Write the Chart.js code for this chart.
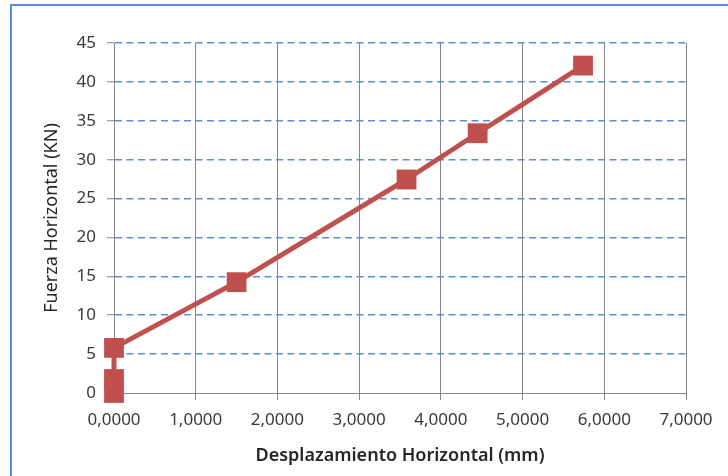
<!DOCTYPE html>
<html lang="es">
<head>
  <meta charset="UTF-8">
  <script src="https://cdn.jsdelivr.net/npm/chart.js"></script>
  <title>Fuerza vs Desplazamiento</title>
  <style>
    body { margin: 0; background: #fff; }
    #wrap { position: relative; width: 728px; height: 476px; overflow: hidden; }
    #marco {
      position: absolute; left: 10px; top: 4px; width: 740px; height: 500px;
      border-left: 2px solid #5b8fd3; border-top: 2px solid #5b8fd3;
    }
    canvas { position: absolute; left: 0; top: 0; }
  </style>
</head>
<body>
  <div id="wrap">
    <div id="marco"></div>
    <canvas id="myChart" width="728" height="476"></canvas>
  </div>

<script>
// datos
var desplazamiento = [0, 0, 0, 1.50, 3.58, 4.45, 5.74];
var fuerza = [0, 1.8, 5.8, 14.25, 27.45, 33.4, 42.1];

var etiquetasX = ['0,0000', '1,0000', '2,0000', '3,0000', '4,0000', '5,0000', '6,0000', '7,0000'];
var etiquetasY = ['0', '5', '10', '15', '20', '25', '30', '35', '40', '45'];

var rojo = '#c0504d';
var gris = '#858585';
var azul = '#5b8fd3';
var texto = '#3a3a3a';
var fuente = "'Noto Sans', 'DejaVu Sans', sans-serif";

var puntos = [];
for (var i = 0; i < desplazamiento.length; i++) {
  puntos.push({ x: desplazamiento[i], y: fuerza[i] });
}

const config = {
  type: 'scatter',
  data: {
    datasets: [{
      label: 'Fuerza',
      data: puntos,
      showLine: true,
      borderColor: rojo,
      backgroundColor: rojo,
      borderWidth: 5,
      pointStyle: 'rect',
      pointRadius: 14,
      pointHoverRadius: 14,
      pointBorderWidth: 0,
      clip: false
    }]
  },
  options: {
    responsive: false,
    animation: false,
    devicePixelRatio: 1,
    layout: { padding: { left: 0, top: 43, right: 42, bottom: 0 } },
    plugins: {
      legend: { display: false },
      tooltip: { enabled: false }
    },
    scales: {
      x: {
        type: 'linear',
        min: 0,
        max: 7,
        afterFit: function (scale) { scale.height = 83; },
        ticks: {
          stepSize: 1,
          padding: 10,
          color: texto,
          font: { family: fuente, size: 17 },
          callback: function (v, i) { return etiquetasX[i]; }
        },
        grid: { color: gris, lineWidth: 1, tickLength: 7, tickColor: gris },
        border: { color: gris, width: 1 },
        title: {
          display: true,
          text: 'Desplazamiento Horizontal (mm)',
          color: '#262626',
          font: { family: fuente, size: 18, weight: '600' },
          padding: { top: 0, bottom: 9 }
        }
      },
      y: {
        min: 0,
        max: 45,
        afterFit: function (scale) { scale.width = 114; },
        ticks: {
          stepSize: 5,
          padding: 11,
          color: texto,
          font: { family: fuente, size: 17 },
          callback: function (v, i) { return etiquetasY[i]; }
        },
        grid: {
          color: function (ctx) { return ctx.tick && ctx.tick.value === 0 ? 'rgba(0,0,0,0)' : azul; },
          lineWidth: 1.5,
          tickLength: 7,
          tickColor: gris,
          tickWidth: 1
        },
        border: { color: gris, width: 1, dash: [7, 4.5] },
        title: {
          display: true,
          text: 'Fuerza Horizontal (KN)',
          color: '#262626',
          font: { family: fuente, size: 18 },
          padding: { top: 41, bottom: 0 }
        }
      }
    }
  }
};

let myChart = new Chart(document.getElementById('myChart'), config);
</script>
</body>
</html>
